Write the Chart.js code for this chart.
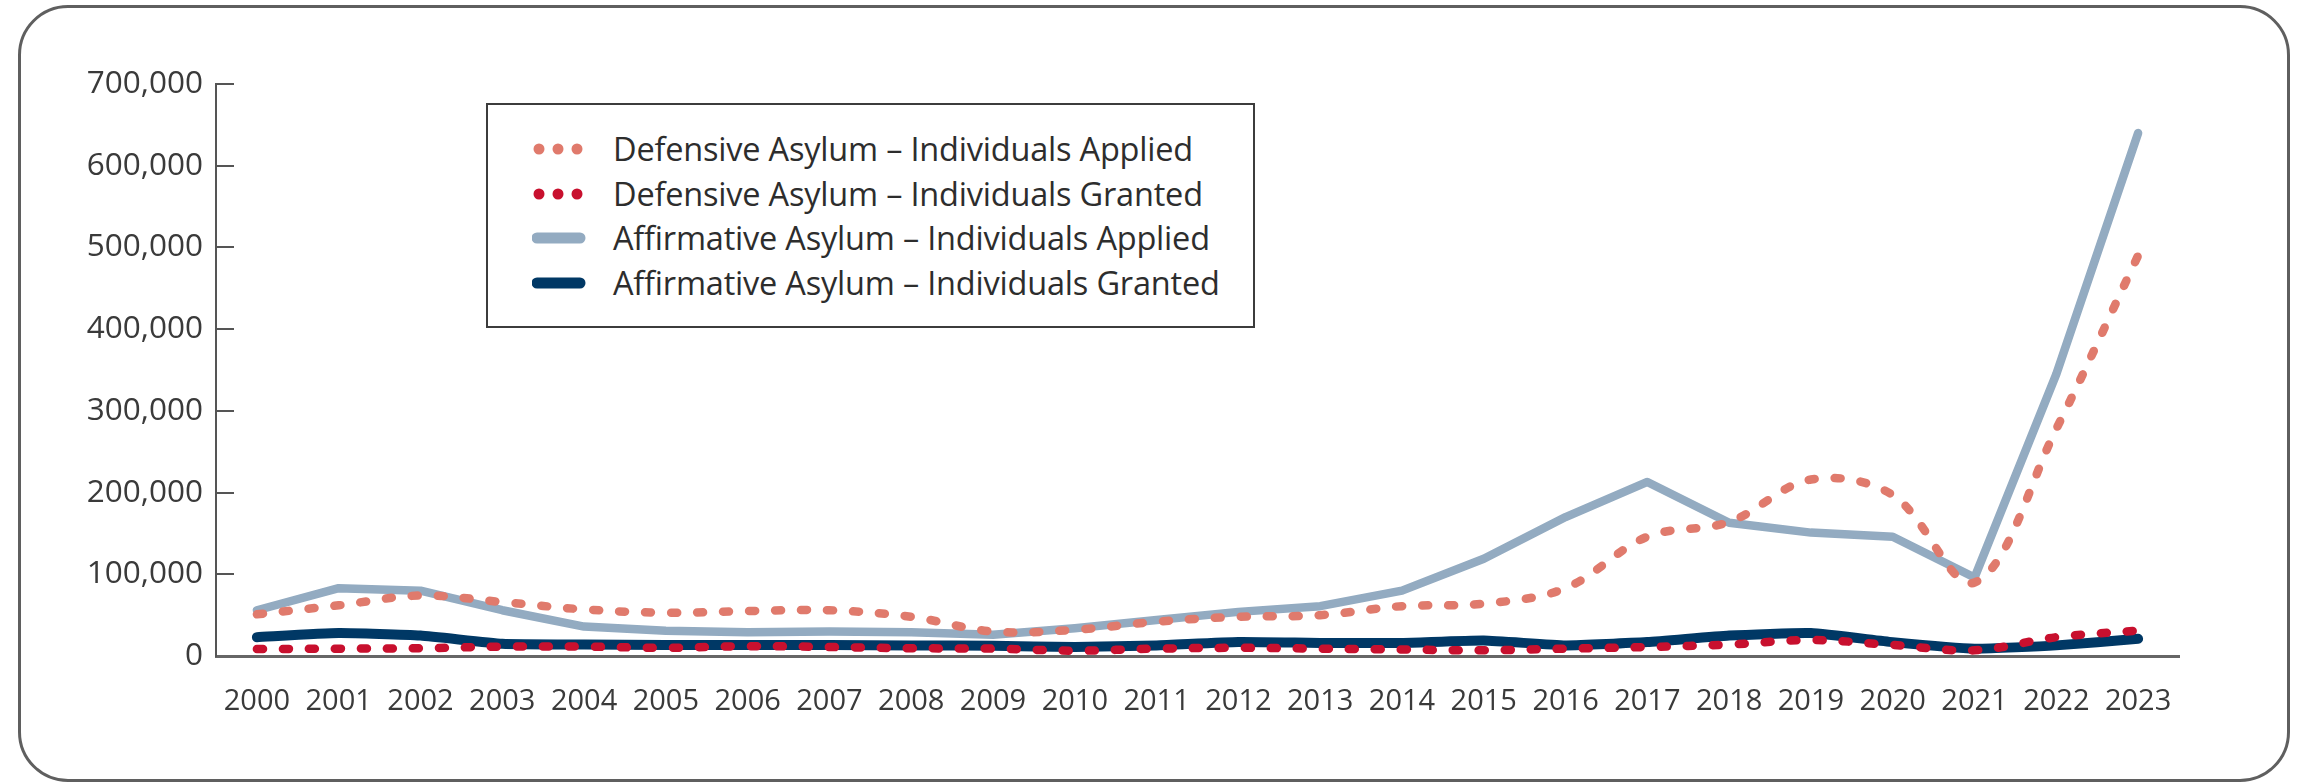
<!DOCTYPE html>
<html>
<head>
<meta charset="utf-8">
<script src="https://cdn.jsdelivr.net/npm/chart.js@4.4.1/dist/chart.umd.min.js"></script>
<style>
  html, body { margin: 0; padding: 0; background: #ffffff; }
  body { width: 2301px; height: 784px; position: relative; overflow: hidden; font-family: "Open Sans", "Noto Sans", sans-serif; }
  #frame { position: absolute; left: 18px; top: 5px; width: 2266px; height: 771px; border: 3px solid #5f5f5f; border-radius: 50px; pointer-events: none; }
  #chart { position: absolute; left: 0; top: 0; }
  #legend { position: absolute; left: 486px; top: 103px; width: 769px; height: 225px; border: 2px solid #3c3c3c; background: #fff; box-sizing: border-box; }
  .item { position: absolute; left: 0; height: 40px; }
  .item svg { position: absolute; left: 44px; top: 0; }
  .item span { position: absolute; left: 125px; top: 0; white-space: nowrap; font-size: 32.5px; color: #2d2d2d; line-height: 40px; letter-spacing: -0.2px; }
</style>
</head>
<body>
<canvas id="chart" width="2301" height="784"></canvas>
<div id="frame"></div>
<div id="legend"></div>
<script>
const years = ["2000","2001","2002","2003","2004","2005","2006","2007","2008","2009","2010","2011","2012","2013","2014","2015","2016","2017","2018","2019","2020","2021","2022","2023"];

const defensiveApplied = [51000, 62000, 74000, 66000, 57000, 53000, 55000, 56000, 48000, 30000, 32000, 42000, 48000, 50000, 61000, 64000, 83000, 146000, 164000, 216000, 197000, 90000, 278000, 490000];
const defensiveGranted = [8500, 9000, 9500, 11500, 11500, 10000, 12000, 11000, 9500, 9000, 6500, 9000, 10000, 9000, 8000, 7000, 9000, 11000, 14000, 19500, 13500, 7000, 23000, 31000];
const affirmativeApplied = [56000, 83000, 80000, 56000, 36000, 31000, 29000, 30000, 29000, 26000, 34000, 44000, 54000, 61000, 80000, 119000, 170000, 213000, 163000, 151000, 146000, 96000, 345000, 640000];
const affirmativeGranted = [23000, 28000, 25000, 15000, 14000, 13500, 13500, 13500, 13000, 12500, 11000, 13000, 17000, 16000, 16000, 19000, 13000, 17000, 25000, 28000, 17000, 9000, 13000, 21000];

const seriesNames = [
  "Defensive Asylum – Individuals Applied",
  "Defensive Asylum – Individuals Granted",
  "Affirmative Asylum – Individuals Applied",
  "Affirmative Asylum – Individuals Granted"
];
const yTicks = [0, 100000, 200000, 300000, 400000, 500000, 600000, 700000];

const C_DEF_APP = "#e07a6c";
const C_DEF_GR = "#c8102e";
const C_AFF_APP = "#93abc1";
const C_AFF_GR = "#003865";

const FONT = '"Open Sans", "Noto Sans", sans-serif';

const inwardTicks = {
  id: 'inwardTicks',
  afterDraw(chart) {
    const y = chart.scales.y;
    const ctx = chart.ctx;
    ctx.save();
    ctx.strokeStyle = '#555555';
    ctx.lineWidth = 2;
    yTicks.forEach(v => {
      if (v === 0) return;
      const py = Math.round(y.getPixelForValue(v));
      ctx.beginPath();
      ctx.moveTo(chart.chartArea.left, py);
      ctx.lineTo(chart.chartArea.left + 18, py);
      ctx.stroke();
    });
    ctx.restore();
  }
};

const ctx = document.getElementById('chart').getContext('2d');
new Chart(ctx, {
  type: 'line',
  data: {
    labels: years,
    datasets: [
      { label: seriesNames[1], data: defensiveGranted, borderColor: C_DEF_GR, borderWidth: 8.5,
        borderDash: [6, 20], borderCapStyle: 'round', borderJoinStyle: 'round', tension: 0.35, pointRadius: 0, order: 0 },
      { label: seriesNames[0], data: defensiveApplied, borderColor: C_DEF_APP, borderWidth: 8.5,
        borderDash: [6, 20], borderCapStyle: 'round', borderJoinStyle: 'round', tension: 0.35, pointRadius: 0, order: 1 },
      { label: seriesNames[3], data: affirmativeGranted, borderColor: C_AFF_GR, borderWidth: 10,
        borderCapStyle: 'round', borderJoinStyle: 'round', tension: 0.15, pointRadius: 0, order: 2 },
      { label: seriesNames[2], data: affirmativeApplied, borderColor: C_AFF_APP, borderWidth: 8.5,
        borderCapStyle: 'round', borderJoinStyle: 'round', tension: 0, pointRadius: 0, order: 3 }
    ]
  },
  options: {
    responsive: false,
    animation: false,
    devicePixelRatio: 1,
    layout: { padding: { left: 0, top: 84, right: 122, bottom: 0 } },
    plugins: { legend: { display: false }, tooltip: { enabled: false } },
    scales: {
      x: {
        offset: true,
        grid: { display: false, drawTicks: false },
        border: { display: true, color: '#666666', width: 3 },
        ticks: { autoSkip: false, maxRotation: 0, minRotation: 0, padding: 28, color: '#3a3a3a',
                 font: { family: FONT, size: 29 } },
        afterFit(scale) { scale.height = 128; }
      },
      y: {
        min: 0, max: 700000,
        grid: { display: false, drawTicks: false },
        border: { display: true, color: '#555555', width: 2 },
        afterBuildTicks(scale) { scale.ticks = yTicks.map(v => ({ value: v })); },
        ticks: { padding: 13, color: '#3a3a3a', font: { family: FONT, size: 31.5 },
                 callback: v => Number(v).toLocaleString('en-US') },
        afterFit(scale) { scale.width = 216; }
      }
    }
  },
  plugins: [inwardTicks]
});

// HTML legend
const legendItems = [
  { name: seriesNames[0], color: C_DEF_APP, dotted: true },
  { name: seriesNames[1], color: C_DEF_GR, dotted: true },
  { name: seriesNames[2], color: C_AFF_APP, dotted: false },
  { name: seriesNames[3], color: C_AFF_GR, dotted: false }
];
const legend = document.getElementById('legend');
legendItems.forEach((it, i) => {
  const row = document.createElement('div');
  row.className = 'item';
  row.style.top = (24 + i * 44.6) + 'px';
  const svgNS = 'http://www.w3.org/2000/svg';
  const svg = document.createElementNS(svgNS, 'svg');
  svg.setAttribute('width', '56'); svg.setAttribute('height', '40');
  if (it.dotted) {
    [0, 1, 2].forEach(k => {
      const c = document.createElementNS(svgNS, 'circle');
      c.setAttribute('cx', 7 + k * 19); c.setAttribute('cy', 20); c.setAttribute('r', 5.5);
      c.setAttribute('fill', it.color);
      svg.appendChild(c);
    });
  } else {
    const l = document.createElementNS(svgNS, 'line');
    l.setAttribute('x1', 5); l.setAttribute('x2', 48); l.setAttribute('y1', 20); l.setAttribute('y2', 20);
    l.setAttribute('stroke', it.color); l.setAttribute('stroke-width', 11); l.setAttribute('stroke-linecap', 'round');
    svg.appendChild(l);
  }
  row.appendChild(svg);
  const sp = document.createElement('span');
  sp.textContent = it.name;
  row.appendChild(sp);
  legend.appendChild(row);
});
</script>
</body>
</html>
